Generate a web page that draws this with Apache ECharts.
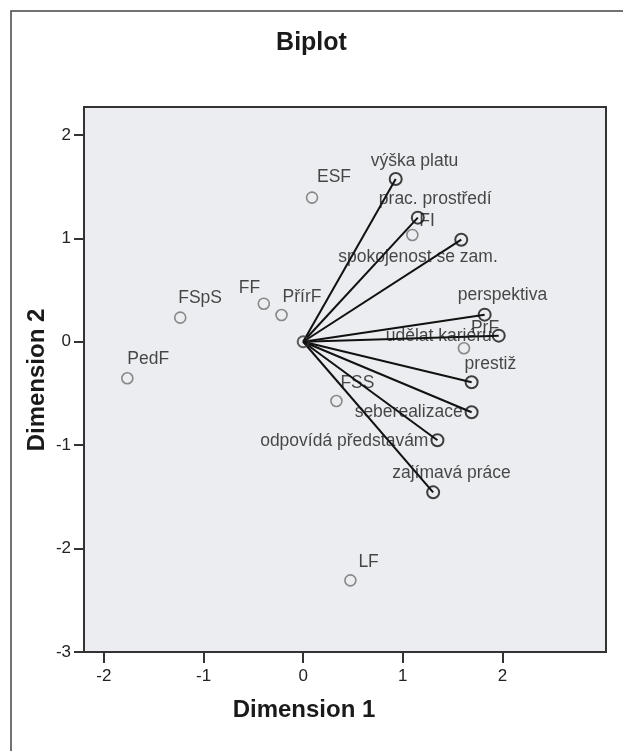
<!DOCTYPE html>
<html>
<head>
<meta charset="utf-8">
<script src="https://cdn.jsdelivr.net/npm/echarts@6/dist/echarts.min.js"></script>
<style>
  html, body { margin: 0; padding: 0; background: #fff; }
  #main { width: 623px; height: 751px; }
</style>
</head>
<body>
<div id="main"></div>
<script>
// objekty (fakulty) - sede kolecko
var objNames = ['PedF', 'FSpS', 'FF', 'PřírF', 'ESF', 'FI', 'PrF', 'FSS', 'LF'];
var objX = [-1.765, -1.234, -0.395, -0.217, 0.089, 1.096, 1.614, 0.334, 0.474];
var objY = [-0.353, 0.233, 0.368, 0.259, 1.394, 1.033, -0.063, -0.573, -2.307];

// promenne - vektory z pocatku
var varNames = ['výška platu', 'prac. prostředí', 'spokojenost se zam.', 'perspektiva',
    'udělat kariéru', 'prestiž', 'seberealizace', 'odpovídá představám', 'zajímavá práce'];
var varX = [0.929, 1.151, 1.587, 1.822, 1.963, 1.691, 1.691, 1.348, 1.305];
var varY = [1.574, 1.200, 0.987, 0.262, 0.059, -0.392, -0.682, -0.953, -1.456];

var originPt = [0, 0];

var xTicks = [-2, -1, 0, 1, 2];
var yTicks = [-3, -2, -1, 0, 1, 2];

// umisteni popisku: [zarovnani, dx, dy]
var labelLayout = {
    'PedF': ['left', 0, -19],
    'FSpS': ['left', -2, -19],
    'FF': ['left', -25, -16],
    'PřírF': ['left', 1, -18],
    'ESF': ['left', 5, -20],
    'FI': ['left', 7, -14],
    'PrF': ['left', 7, -20],
    'FSS': ['left', 4, -18],
    'LF': ['left', 8, -18],
    'výška platu': ['left', -25, -18],
    'prac. prostředí': ['left', -39, -18],
    'spokojenost se zam.': ['left', -123, 17],
    'perspektiva': ['left', -27, -19],
    'udělat kariéru': ['right', -7, 1],
    'prestiž': ['left', -7, -18],
    'seberealizace': ['right', -9, 0],
    'odpovídá představám': ['right', -9, 1],
    'zajímavá práce': ['left', -41, -19]
};

var FONT = '"Liberation Sans", Arial, sans-serif';

function pointItem(name, x, y) {
    var l = labelLayout[name];
    return {
        name: name,
        value: [x, y],
        label: {
            show: true,
            formatter: name,
            position: 'inside',
            align: l[0],
            verticalAlign: 'middle',
            offset: [l[1], l[2]],
            color: '#1a1a1a',
            textBorderWidth: 0,
            fontSize: 17.5,
            fontFamily: FONT
        }
    };
}

var objData = objNames.map(function (n, i) { return pointItem(n, objX[i], objY[i]); });
var varData = varNames.map(function (n, i) { return pointItem(n, varX[i], varY[i]); });
var lineData = varNames.map(function (n, i) {
    return { coords: [originPt, [varX[i], varY[i]]] };
});

var myChart = echarts.init(document.getElementById('main'));

var option = {
    animation: false,
    backgroundColor: '#fff',
    title: {
        text: 'Biplot',
        left: 'center',
        top: 26,
        textStyle: { fontSize: 25, fontWeight: 'bold', color: '#1a1a1a', fontFamily: FONT }
    },
    graphic: [
        {
            type: 'rect', z: -10, silent: true,
            shape: { x: 11, y: 11, width: 700, height: 800 },
            style: { fill: 'none', stroke: '#444', lineWidth: 1.5 }
        },
        {
            type: 'text', silent: true,
            x: 304, y: 710,
            style: {
                text: 'Dimension 1', fill: '#1a1a1a', align: 'center', verticalAlign: 'middle',
                font: 'bold 24px ' + FONT
            }
        },
        {
            type: 'text', silent: true,
            x: 37, y: 380, rotation: Math.PI / 2,
            style: {
                text: 'Dimension 2', fill: '#1a1a1a', align: 'center', verticalAlign: 'middle',
                font: 'bold 24px ' + FONT
            }
        }
    ],
    grid: {
        left: 84, top: 107, right: 17, bottom: 99,
        show: true,
        backgroundColor: '#ecedf0',
        borderColor: '#333',
        borderWidth: 2
    },
    xAxis: {
        type: 'value',
        min: -2.2, max: 3.04,
        splitLine: { show: false },
        axisLine: { show: true, onZero: false, lineStyle: { color: '#333', width: 2 } },
        axisTick: { show: true, customValues: xTicks, length: 11, lineStyle: { color: '#333', width: 2 } },
        axisLabel: {
            customValues: xTicks, margin: 16, fontSize: 17, color: '#222', fontFamily: FONT
        }
    },
    yAxis: {
        type: 'value',
        min: -3, max: 2.27,
        splitLine: { show: false },
        axisLine: { show: true, onZero: false, lineStyle: { color: '#333', width: 2 } },
        axisTick: { show: true, customValues: yTicks, length: 10, lineStyle: { color: '#333', width: 2 } },
        axisLabel: {
            customValues: yTicks, margin: 13, fontSize: 17, color: '#222', fontFamily: FONT
        }
    },
    series: [
        {
            name: 'vektory',
            type: 'lines',
            coordinateSystem: 'cartesian2d',
            silent: true,
            lineStyle: { color: '#111', width: 2, opacity: 1 },
            data: lineData,
            z: 3
        },
        {
            name: 'pocatek',
            type: 'scatter',
            symbol: 'circle',
            symbolSize: 11,
            itemStyle: { color: 'rgba(0,0,0,0)', borderColor: '#333', borderWidth: 2 },
            data: [originPt],
            z: 4
        },
        {
            name: 'objekty',
            type: 'scatter',
            symbol: 'circle',
            symbolSize: 11,
            itemStyle: { color: 'rgba(0,0,0,0)', borderColor: '#6e6e6e', borderWidth: 1.6 },
            data: objData,
            z: 2
        },
        {
            name: 'promenne',
            type: 'scatter',
            symbol: 'circle',
            symbolSize: 12,
            itemStyle: { color: 'rgba(0,0,0,0)', borderColor: '#111', borderWidth: 2 },
            data: varData,
            z: 5
        }
    ]
};

myChart.setOption(option);
</script>
</body>
</html>
